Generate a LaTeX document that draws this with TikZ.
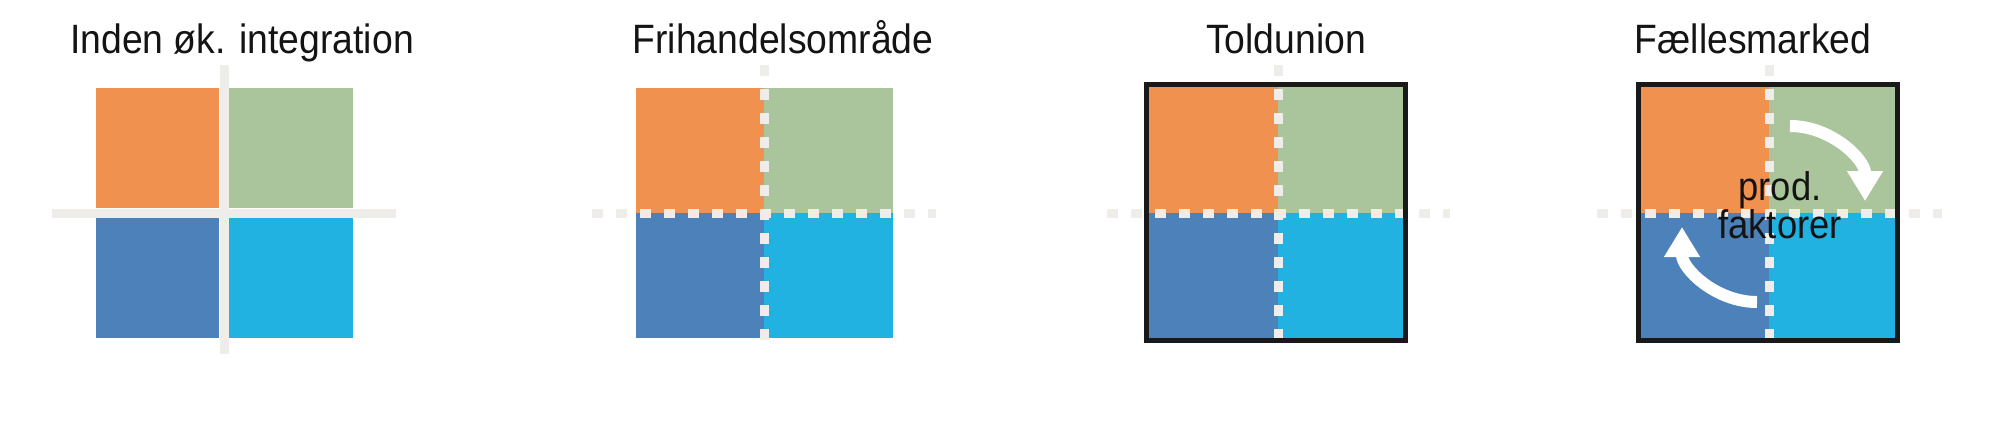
\documentclass[tikz,border=0pt]{standalone}
\usepackage{fontspec}
\setmainfont{Liberation Sans}[FakeStretch=0.91]
\usetikzlibrary{arrows.meta}
\definecolor{cOr}{HTML}{F09150}
\definecolor{cGr}{HTML}{AAC59C}
\definecolor{cBl}{HTML}{4C81BA}
\definecolor{cCy}{HTML}{22B2E2}
\definecolor{cLine}{HTML}{EFEDE9}
\definecolor{cText}{HTML}{141414}
\begin{document}
\begin{tikzpicture}[x=0.5pt,y=-0.5pt,
  title/.style={anchor=base,font=\fontsize{20.5pt}{24pt}\selectfont,text=cText,inner sep=0pt},
  lbl/.style={align=center,font=\fontsize{20pt}{18pt}\selectfont,text=cText,inner sep=0pt},
  border/.style={draw=black!90,line width=2.5pt},
  solidsep/.style={draw=cLine,line width=4.5pt},
  dashsep/.style={draw=cLine,line width=4.5pt,dash pattern=on 5.5pt off 6.5pt},
  flow/.style={draw=white,line width=6pt,-{Triangle[width=17pt,length=15pt]}}]
\useasboundingbox (0,0) rectangle (2000,447);
\fill[white] (0,0) rectangle (2000,447);

% ---------- Panel 1: Inden øk. integration ----------
\node[title] (t1) at (242,53) {Inden øk. integration};
\draw[solidsep] (224,65) -- (224,354);
\draw[solidsep] (52,213) -- (396,213);
\fill[cOr] (96,88) rectangle (219,208);
\fill[cGr] (229,88) rectangle (353,208);
\fill[cBl] (96,218) rectangle (219,338);
\fill[cCy] (229,218) rectangle (353,338);

% ---------- Panel 2: Frihandelsområde ----------
\node[title] (t2) at (783,53) {Frihandelsområde};
\fill[cOr] (636,88) rectangle (764,213);
\fill[cGr] (764,88) rectangle (893,213);
\fill[cBl] (636,213) rectangle (764,338);
\fill[cCy] (764,213) rectangle (893,338);
\draw[dashsep] (764,65) -- (764,343);
\draw[dashsep] (592,213) -- (936,213);

% ---------- Panel 3: Toldunion ----------
\node[title] (t3) at (1286,53) {Toldunion};
\fill[cOr] (1149,87) rectangle (1278,213);
\fill[cGr] (1278,87) rectangle (1403,213);
\fill[cBl] (1149,213) rectangle (1278,338);
\fill[cCy] (1278,213) rectangle (1403,338);
\draw[dashsep] (1278,65) -- (1278,338);
\draw[dashsep] (1107,213) -- (1450,213);
\draw[border] (1146.5,84.5) rectangle (1405.5,340.5);

% ---------- Panel 4: Fællesmarked ----------
\node[title] (t4) at (1753,53) {Fællesmarked};
\fill[cOr] (1641,87) rectangle (1769,213);
\fill[cGr] (1769,87) rectangle (1895,213);
\fill[cBl] (1641,213) rectangle (1769,338);
\fill[cCy] (1769,213) rectangle (1895,338);
\draw[dashsep] (1769,65) -- (1769,338);
\draw[dashsep] (1597,213) -- (1942,213);
\draw[border] (1638.5,84.5) rectangle (1897.5,340.5);

\coordinate (a1s) at (1790,126);
\coordinate (a1e) at (1865,201);
\coordinate (a2s) at (1757,302);
\coordinate (a2e) at (1682,227);
\draw[flow] (a1s) .. controls (1831.4,126) and (1865,159.6) .. (a1e);
\draw[flow] (a2s) .. controls (1715.6,302) and (1682,268.6) .. (a2e);

\node[lbl,anchor=south] (pf) at (1780,239) {prod.\\[-0.85pt]faktorer};
\end{tikzpicture}
\end{document}
